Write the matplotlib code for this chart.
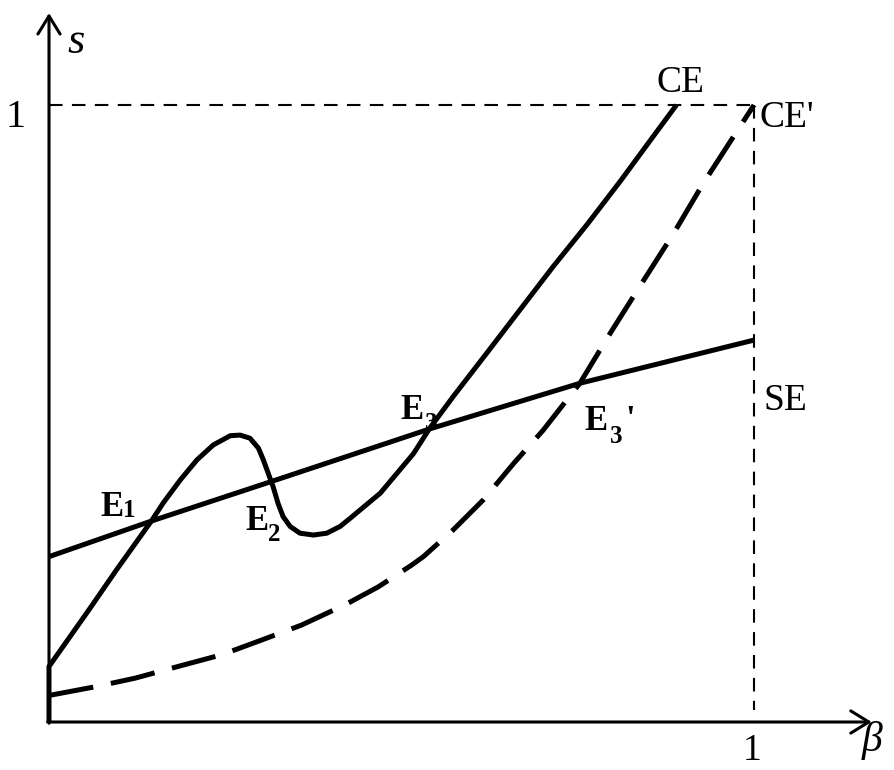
import matplotlib
matplotlib.use('Agg')
import matplotlib.pyplot as plt

# ---- data (beta on x, s on y) ----
ce_x = [0.0, 0.0, 0.058, 0.096, 0.146, 0.162, 0.186, 0.210, 0.233, 0.257, 0.271,
        0.285, 0.297, 0.304, 0.311, 0.318, 0.325, 0.332, 0.342, 0.356, 0.375, 0.394,
        0.413, 0.427, 0.470, 0.517, 0.540, 0.573, 0.621, 0.668, 0.715, 0.763, 0.810,
        0.857, 0.890]
ce_y = [0.0, 0.090, 0.184, 0.247, 0.327, 0.355, 0.392, 0.425, 0.449, 0.464, 0.465,
        0.460, 0.444, 0.425, 0.403, 0.381, 0.354, 0.333, 0.317, 0.306, 0.303, 0.306,
        0.317, 0.330, 0.371, 0.435, 0.476, 0.527, 0.598, 0.668, 0.738, 0.806, 0.876,
        0.949, 1.0]

cep_x = [0.0, 0.065, 0.122, 0.183, 0.245, 0.302, 0.358, 0.420, 0.467, 0.514, 0.531,
         0.573, 0.616, 0.659, 0.701, 0.753, 0.796, 0.838, 0.886, 0.928, 0.971, 1.0]
cep_y = [0.043, 0.057, 0.071, 0.090, 0.109, 0.133, 0.157, 0.190, 0.219, 0.254, 0.268,
         0.311, 0.360, 0.419, 0.473, 0.549, 0.630, 0.706, 0.792, 0.873, 0.949, 1.0]

se_x = [0.0, 0.146, 0.316, 0.540, 0.753, 1.0]
se_y = [0.268, 0.326, 0.390, 0.475, 0.549, 0.619]

SERIF = ['Liberation Serif', 'DejaVu Serif']

fig = plt.figure(figsize=(8.95, 7.70), dpi=100)
ax = fig.add_axes([0, 0, 1, 1])
ax.set_xlim(-0.0695, 1.2)
ax.set_ylim(-0.0778, 1.1702)
ax.set_axis_off()

# axes with open arrowheads
arrow = dict(arrowstyle='->,head_length=0.65,head_width=0.4', lw=2.2, color='black',
             shrinkA=0, shrinkB=0, mutation_scale=20)
ax.annotate('', xy=(0, 1.149), xytext=(0, -0.002), arrowprops=arrow)
ax.annotate('', xy=(1.167, 0), xytext=(-0.002, 0), arrowprops=arrow)

# thin dashed guides
ax.plot([0, 1.0], [1.0, 1.0], color='black', lw=1.5, linestyle=(0, (6.5, 4.5)),
        dash_capstyle='butt')
ax.plot([1.0, 1.0], [1.0, 0.02], color='black', lw=1.5, linestyle=(0, (6.5, 4.5)),
        dash_capstyle='butt')

# curves
ax.plot(se_x, se_y, color='black', lw=3.6, solid_capstyle='butt', solid_joinstyle='round')
ax.plot(ce_x, ce_y, color='black', lw=3.6, solid_capstyle='butt', solid_joinstyle='round')
ax.plot(cep_x, cep_y, color='black', lw=3.6, linestyle=(0, (9, 3.6)),
        dash_capstyle='butt', dash_joinstyle='round')

# labels
ax.text(0.0255, 1.084, 's', fontsize=32, family=SERIF, style='italic',
        ha='left', va='baseline')
ax.text(1.153, -0.047, 'β', fontsize=30, family=SERIF, style='italic',
        ha='left', va='baseline')
ax.text(-0.034, 0.964, '1', fontsize=29, family=SERIF, ha='right', va='baseline')
ax.text(0.997, -0.062, '1', fontsize=27, family=SERIF, ha='center', va='baseline')
ax.text(0.862, 1.021, 'CE', fontsize=27, family=SERIF, ha='left', va='baseline')
ax.text(1.0085, 0.964, "CE'", fontsize=27, family=SERIF, ha='left', va='baseline')
ax.text(1.013, 0.506, 'SE', fontsize=27, family=SERIF, ha='left', va='baseline')

def elabel(x, y, sub, sx, sy, prime=None):
    ax.text(x, y, 'E', fontsize=25, family=SERIF, weight='bold', ha='left', va='baseline')
    ax.text(sx, sy, sub, fontsize=18, family=SERIF, weight='bold', ha='left', va='baseline')
    if prime is not None:
        ax.text(prime[0], prime[1], "'", fontsize=25, family=SERIF, weight='bold',
                ha='left', va='baseline')

elabel(0.0723, 0.334, '1', 0.105, 0.332)
elabel(0.278, 0.311, '2', 0.311, 0.293)
elabel(0.498, 0.491, '3', 0.533, 0.473)
elabel(0.760, 0.473, '3', 0.796, 0.452, prime=(0.817, 0.473))

fig.savefig('out.png', dpi=100)
